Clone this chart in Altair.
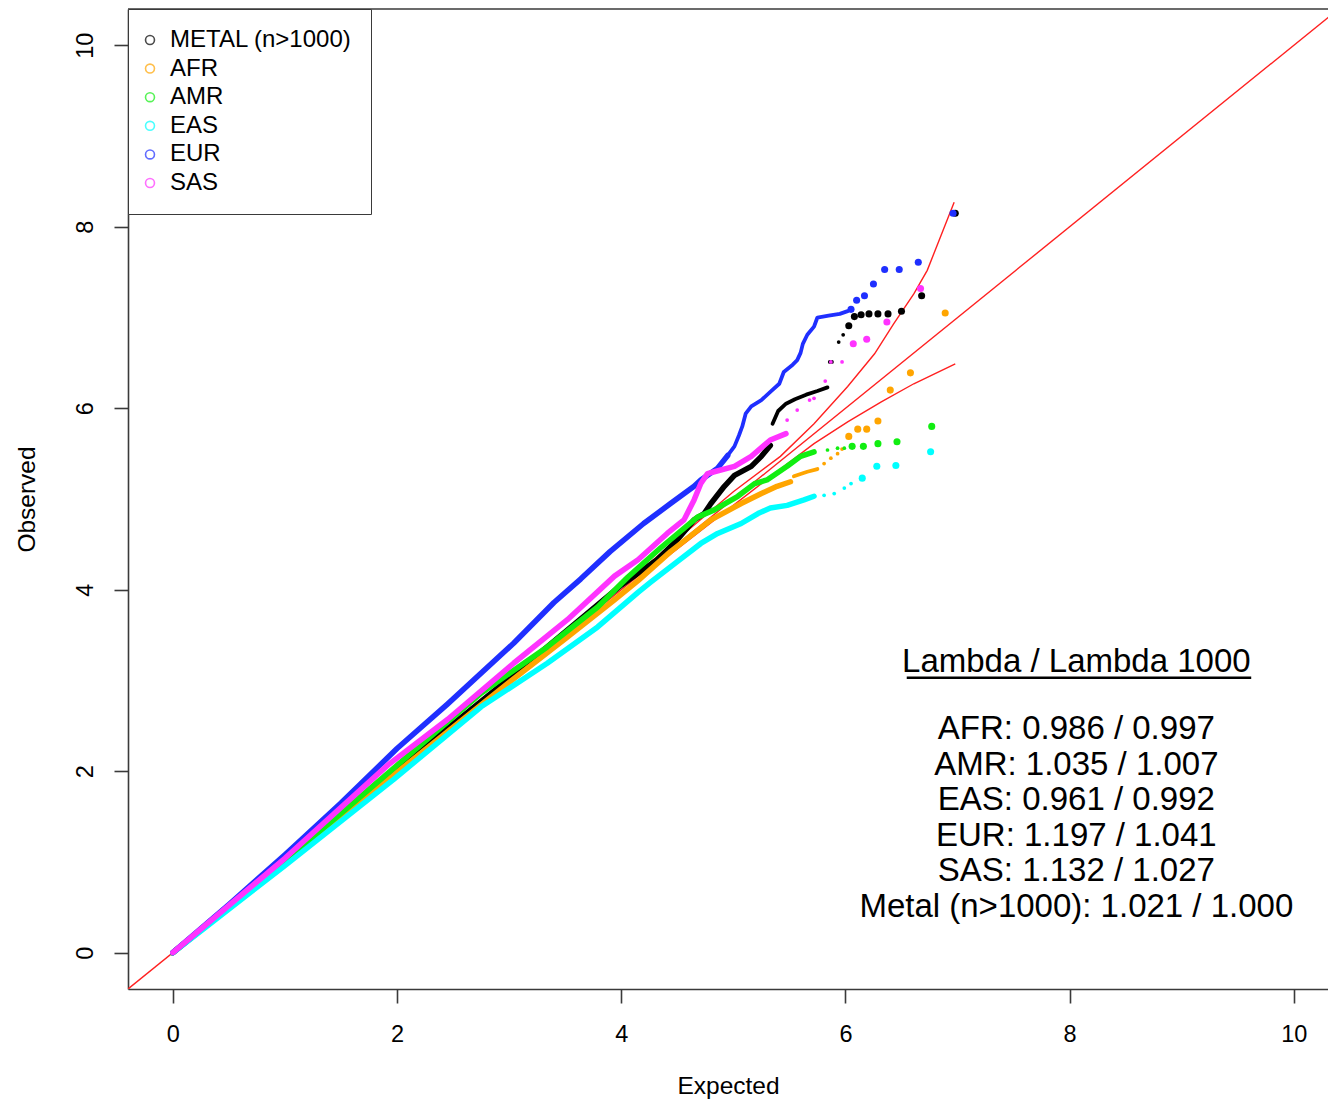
import altair as alt
import pandas as pd

# ---------------- data ----------------
SERIES = ["METAL (n>1000)", "AFR", "AMR", "EAS", "EUR", "SAS"]
COLORS = ["#000000", "#ffa500", "#11ee11", "#00ffff", "#1f2fff", "#ff33ff"]

# METAL (n>1000)
METAL_MAIN_X = [0, 1, 2, 3, 4, 4.32, 4.5, 4.65, 4.74, 4.8, 4.92, 5.01, 5.16, 5.25, 5.33]
METAL_MAIN_Y = [0, 1.0, 2.02, 3.02, 4.05, 4.33, 4.55, 4.77, 4.84, 4.95, 5.14, 5.26, 5.36, 5.47, 5.59]
METAL_TRAIL_X = [5.35, 5.40, 5.47, 5.55, 5.65, 5.75, 5.84]
METAL_TRAIL_Y = [5.83, 5.97, 6.05, 6.10, 6.15, 6.19, 6.23]
METAL_DOT_X = [5.86, 5.88, 5.94, 5.98]
METAL_DOT_Y = [6.51, 6.51, 6.73, 6.81]
METAL_TAIL_X = [6.03, 6.08, 6.14, 6.21, 6.29, 6.38, 6.50, 6.68, 6.98]
METAL_TAIL_Y = [6.91, 7.01, 7.03, 7.04, 7.04, 7.04, 7.07, 7.24, 8.15]

# AFR
AFR_MAIN_X = [0, 1, 2, 3, 3.5, 3.94, 4.15, 4.44, 4.8, 5.07, 5.25, 5.39, 5.51]
AFR_MAIN_Y = [0, 0.99, 1.99, 2.98, 3.46, 3.89, 4.10, 4.42, 4.77, 4.95, 5.06, 5.14, 5.19]
AFR_TRAIL_X = [5.54, 5.66, 5.75]
AFR_TRAIL_Y = [5.25, 5.30, 5.33]
AFR_DOT_X = [5.81, 5.87, 5.93, 5.97]
AFR_DOT_Y = [5.39, 5.45, 5.50, 5.55]
AFR_TAIL_X = [6.03, 6.11, 6.19, 6.29, 6.40, 6.58, 6.89]
AFR_TAIL_Y = [5.69, 5.77, 5.77, 5.86, 6.20, 6.39, 7.05]

# AMR
AMR_MAIN_X = [0, 1, 1.92, 2.75, 3.34, 3.79, 4.06, 4.35, 4.68, 4.83, 5.04, 5.19, 5.30, 5.48, 5.60, 5.72]
AMR_MAIN_Y = [0, 1.01, 1.98, 2.86, 3.37, 3.81, 4.14, 4.46, 4.80, 4.88, 5.03, 5.17, 5.21, 5.36, 5.47, 5.52]
AMR_TRAIL_X = []
AMR_TRAIL_Y = []
AMR_DOT_X = [5.84, 5.93, 5.99]
AMR_DOT_Y = [5.54, 5.56, 5.56]
AMR_TAIL_X = [6.06, 6.16, 6.29, 6.46, 6.77]
AMR_TAIL_Y = [5.58, 5.58, 5.61, 5.63, 5.80]

# EAS
EAS_MAIN_X = [0, 1, 1.97, 2.75, 3.34, 3.79, 4.15, 4.26, 4.5, 4.71, 4.86, 5.07, 5.22, 5.33, 5.48, 5.63, 5.72]
EAS_MAIN_Y = [0, 0.96, 1.91, 2.71, 3.19, 3.59, 3.97, 4.08, 4.31, 4.51, 4.62, 4.73, 4.84, 4.90, 4.93, 4.99, 5.03]
EAS_TRAIL_X = []
EAS_TRAIL_Y = []
EAS_DOT_X = [5.81, 5.90, 5.99, 6.05]
EAS_DOT_Y = [5.04, 5.06, 5.12, 5.17]
EAS_TAIL_X = [6.15, 6.28, 6.45, 6.76]
EAS_TAIL_Y = [5.23, 5.36, 5.37, 5.52]

# EUR
EUR_MAIN_X = [0, 0.5, 1, 1.5, 2, 2.45, 3.04, 3.4, 3.64, 3.9, 4.2, 4.44, 4.65, 4.71, 4.86, 4.95]
EUR_MAIN_Y = [0, 0.53, 1.08, 1.65, 2.25, 2.74, 3.41, 3.86, 4.12, 4.42, 4.73, 4.95, 5.14, 5.21, 5.34, 5.48]
EUR_TRAIL_X = [4.95, 5.01, 5.05, 5.08, 5.11, 5.16, 5.25, 5.33, 5.41, 5.45, 5.53, 5.57, 5.60, 5.62,
               5.66, 5.72, 5.75, 5.85, 5.95, 6.02]
EUR_TRAIL_Y = [5.48, 5.58, 5.70, 5.80, 5.94, 6.02, 6.09, 6.18, 6.27, 6.40, 6.48, 6.53, 6.61, 6.71,
               6.81, 6.90, 7.00, 7.02, 7.04, 7.07]
EUR_DOT_X = []
EUR_DOT_Y = []
EUR_TAIL_X = [6.05, 6.10, 6.17, 6.25, 6.35, 6.48, 6.65, 6.96]
EUR_TAIL_Y = [7.09, 7.19, 7.24, 7.37, 7.53, 7.53, 7.61, 8.15]

# SAS
SAS_MAIN_X = [0, 1, 1.92, 2.45, 3.04, 3.52, 3.94, 4.15, 4.41, 4.56, 4.65, 4.71, 4.77, 4.83, 5.01,
              5.16, 5.33, 5.47]
SAS_MAIN_Y = [0, 1.04, 2.07, 2.57, 3.19, 3.67, 4.15, 4.33, 4.62, 4.77, 4.99, 5.17, 5.28, 5.30, 5.36,
              5.47, 5.65, 5.72]
SAS_TRAIL_X = []
SAS_TRAIL_Y = []
SAS_DOT_X = [5.48, 5.57, 5.68, 5.72, 5.82, 5.87, 5.97]
SAS_DOT_Y = [5.87, 5.98, 6.09, 6.11, 6.30, 6.51, 6.51]
SAS_TAIL_X = [6.07, 6.19, 6.37, 6.67]
SAS_TAIL_Y = [6.71, 6.76, 6.95, 7.32]

# red reference lines
DIAG = [-0.4, 10.4]
UPPER_X = [0, 4, 5, 5.42, 5.72, 6.02, 6.26, 6.43, 6.61, 6.73, 6.97]
UPPER_Y = [0, 4.03, 5.08, 5.47, 5.83, 6.24, 6.60, 6.93, 7.26, 7.52, 8.27]
LOWER_X = [0, 4, 5, 5.42, 5.72, 6.02, 6.32, 6.61, 6.98]
LOWER_Y = [0, 3.97, 4.93, 5.33, 5.61, 5.85, 6.07, 6.27, 6.49]

LAMBDA_TITLE = "Lambda / Lambda 1000"
LAMBDA_LINES = [
    "AFR: 0.986 / 0.997",
    "AMR: 1.035 / 1.007",
    "EAS: 0.961 / 0.992",
    "EUR: 1.197 / 1.041",
    "SAS: 1.132 / 1.027",
    "Metal (n>1000): 1.021 / 1.000",
]

SERIES_DATA = {
    "METAL (n>1000)": (METAL_MAIN_X, METAL_MAIN_Y, METAL_TRAIL_X, METAL_TRAIL_Y,
                       METAL_DOT_X, METAL_DOT_Y, METAL_TAIL_X, METAL_TAIL_Y),
    "AFR": (AFR_MAIN_X, AFR_MAIN_Y, AFR_TRAIL_X, AFR_TRAIL_Y, AFR_DOT_X, AFR_DOT_Y, AFR_TAIL_X, AFR_TAIL_Y),
    "AMR": (AMR_MAIN_X, AMR_MAIN_Y, AMR_TRAIL_X, AMR_TRAIL_Y, AMR_DOT_X, AMR_DOT_Y, AMR_TAIL_X, AMR_TAIL_Y),
    "EAS": (EAS_MAIN_X, EAS_MAIN_Y, EAS_TRAIL_X, EAS_TRAIL_Y, EAS_DOT_X, EAS_DOT_Y, EAS_TAIL_X, EAS_TAIL_Y),
    "EUR": (EUR_MAIN_X, EUR_MAIN_Y, EUR_TRAIL_X, EUR_TRAIL_Y, EUR_DOT_X, EUR_DOT_Y, EUR_TAIL_X, EUR_TAIL_Y),
    "SAS": (SAS_MAIN_X, SAS_MAIN_Y, SAS_TRAIL_X, SAS_TRAIL_Y, SAS_DOT_X, SAS_DOT_Y, SAS_TAIL_X, SAS_TAIL_Y),
}

# ---------------- layout / style ----------------
FONT = "Liberation Sans"
FRAME = "#3a3a3a"
W, H = 1200, 980
XDOM = [-0.4, 10.305]
YDOM = [-0.4, 10.4]
TEXT_X = 8.06
TITLE_Y = 3.095
LINE0_Y = 2.355
LINE_STEP = 0.392
UNDERLINE = (6.547, 9.62, 3.03)

xs = alt.Scale(domain=XDOM, nice=False, zero=False)
ys = alt.Scale(domain=YDOM, nice=False, zero=False)

x_axis = alt.Axis(title="Expected", values=[0, 2, 4, 6, 8, 10], format="d", grid=False,
                  tickSize=14, labelPadding=38, labelBaseline="alphabetic", labelFontSize=23.5,
                  titleFontSize=24.5, titleBaseline="alphabetic", titleY=104)
y_axis = alt.Axis(title="Observed", values=[0, 2, 4, 6, 8, 10], format="d", grid=False,
                  tickSize=14, labelPadding=22, labelAngle=270, labelAlign="center",
                  labelBaseline="alphabetic", labelFontSize=23.5,
                  titleFontSize=24.5, titleAngle=270, titleAlign="center",
                  titleBaseline="alphabetic", titleX=-94, titleY=H / 2)


def enc(chart):
    return chart.encode(
        x=alt.X("x:Q", scale=xs, axis=x_axis),
        y=alt.Y("y:Q", scale=ys, axis=y_axis),
    )


def df(xv, yv):
    return pd.DataFrame({"x": xv, "y": yv})


layers = []

# red reference lines (drawn under the points)
red = "#ff2020"
layers.append(enc(alt.Chart(df(DIAG, DIAG)).mark_line(color=red, strokeWidth=1.4, clip=True)))
layers.append(enc(alt.Chart(df(UPPER_X, UPPER_Y)).mark_line(color=red, strokeWidth=1.4, clip=True)))
layers.append(enc(alt.Chart(df(LOWER_X, LOWER_Y)).mark_line(color=red, strokeWidth=1.4, clip=True)))

for name, col in zip(SERIES, COLORS):
    mx, my, tx, ty, dx, dy, bx, by = SERIES_DATA[name]
    layers.append(enc(alt.Chart(df(mx, my)).mark_line(
        color=col, strokeWidth=5.5, strokeCap="round", strokeJoin="round")))
    if tx:
        layers.append(enc(alt.Chart(df(tx, ty)).mark_line(
            color=col, strokeWidth=3.8, strokeCap="round", strokeJoin="round")))
    if dx:
        layers.append(enc(alt.Chart(df(dx, dy)).mark_circle(color=col, size=14, opacity=1)))
    if bx:
        layers.append(enc(alt.Chart(df(bx, by)).mark_circle(color=col, size=50, opacity=1)))

# lambda annotation
txt = pd.DataFrame({
    "label": [LAMBDA_TITLE] + LAMBDA_LINES,
    "x": [TEXT_X] * (1 + len(LAMBDA_LINES)),
    "y": [TITLE_Y] + [LINE0_Y - i * LINE_STEP for i in range(len(LAMBDA_LINES))],
})
layers.append(enc(alt.Chart(txt).mark_text(
    font=FONT, fontSize=33, align="center", baseline="alphabetic", color="black")).encode(text="label:N"))
ul = pd.DataFrame({"x": [UNDERLINE[0]], "x2": [UNDERLINE[1]], "y": [UNDERLINE[2]]})
layers.append(alt.Chart(ul).mark_rule(color="black", strokeWidth=2.4).encode(
    x=alt.X("x:Q", scale=xs, axis=x_axis), x2="x2:Q", y=alt.Y("y:Q", scale=ys, axis=y_axis)))

# top frame line
layers.append(alt.Chart(df([0], [0])).mark_rule(color=FRAME, strokeWidth=1.6).encode(
    x=alt.value(0), x2=alt.value(W), y=alt.value(0)))

# legend-only layer (no visible marks: positions are null)
leg = pd.DataFrame({"series": SERIES, "x": [None] * len(SERIES), "y": [None] * len(SERIES)})
layers.append(alt.Chart(leg).mark_point(filled=False, shape="circle", strokeWidth=1.6).encode(
    x=alt.X("x:Q", scale=xs, axis=x_axis),
    y=alt.Y("y:Q", scale=ys, axis=y_axis),
    color=alt.Color("series:N", scale=alt.Scale(domain=SERIES, range=COLORS),
                    legend=alt.Legend(title=None, symbolType="circle", symbolSize=80,
                                      symbolStrokeWidth=1.6, symbolFillColor="transparent")),
))

chart = alt.layer(*layers).properties(
    width=W, height=H,
    autosize=alt.AutoSizeParams(type="none"),
    padding={"left": 120, "top": 1, "right": 0, "bottom": 110},
).configure_view(stroke=None).configure_axis(
    labelFont=FONT, titleFont=FONT, labelColor="black", titleColor="black",
    titleFontWeight="normal", domainColor=FRAME, domainWidth=1.6,
    tickColor=FRAME, tickWidth=1.6, zindex=1,
).configure_legend(
    orient="top-left", offset=0, padding=19, strokeColor=FRAME, fillColor="white",
    labelFont=FONT, labelFontSize=24, labelColor="black", rowPadding=4.6,
    labelOffset=8, symbolOffset=-9, labelLimit=400,
)

chart.save("out.html", embed_options={"renderer": "svg", "actions": False})
